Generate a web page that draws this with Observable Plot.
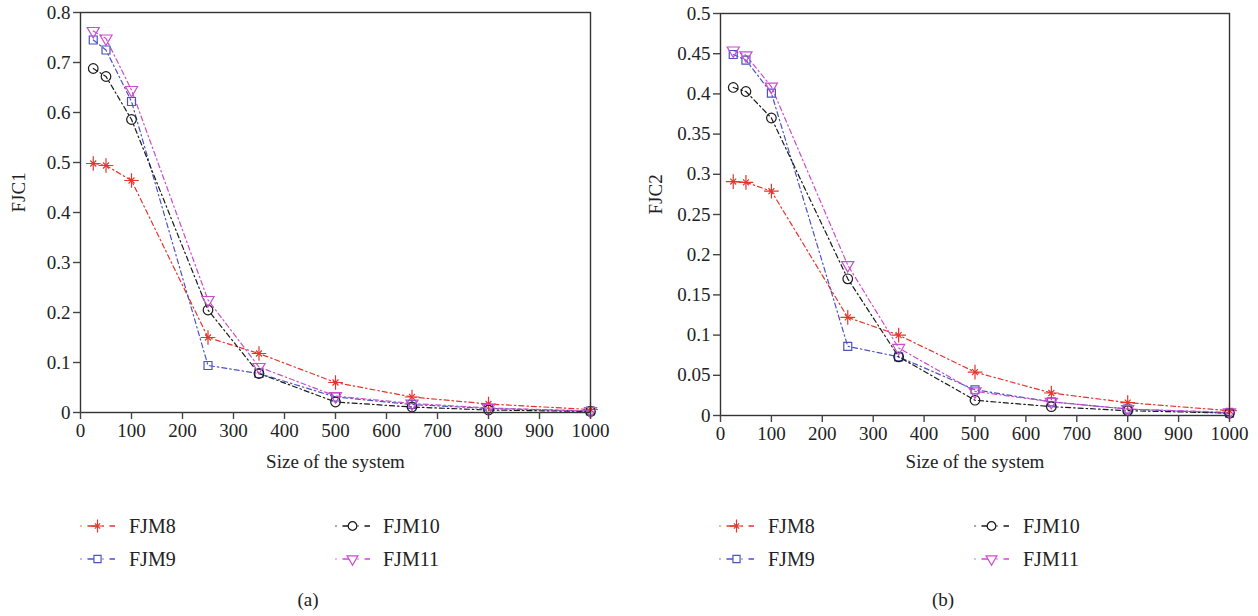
<!DOCTYPE html>
<html><head><meta charset="utf-8">
<script src="https://cdn.jsdelivr.net/npm/d3@7"></script>
<script src="https://cdn.jsdelivr.net/npm/@observablehq/plot@0.6"></script>
<style>
html,body{margin:0;padding:0;background:#fff;}
#root{position:relative;width:1258px;height:616px;overflow:hidden;font-family:"Liberation Serif",serif;color:#222;background:#fff;}
.panel{position:absolute;top:0;}
.leg{position:absolute;height:24px;font-size:20px;line-height:24px;white-space:nowrap;font-family:"Liberation Serif",serif;}
.leg svg{position:absolute;left:0;top:0;}
.leg span{position:absolute;top:0;}
.cap{position:absolute;font-size:19px;transform:translate(-50%,-50%);white-space:nowrap;font-family:"Liberation Serif",serif;}
</style></head><body><div id="root"></div>
<script>
// ---- data ----
const sizes = [25, 50, 100, 250, 350, 500, 650, 800, 1000];
const seriesNames = ["FJM8", "FJM9", "FJM10", "FJM11"];
const seriesColors = ["#e5352c", "#4d52c2", "#1a1a1a", "#cc4ccc"];
const xTicks = [0, 100, 200, 300, 400, 500, 600, 700, 800, 900, 1000];

// panel (a) FJC1
const fjc1FJM8  = [0.498, 0.494, 0.464, 0.150, 0.118, 0.060, 0.031, 0.017, 0.006];
const fjc1FJM9  = [0.745, 0.725, 0.622, 0.094, 0.078, 0.031, 0.016, 0.008, 0.003];
const fjc1FJM10 = [0.688, 0.672, 0.586, 0.205, 0.078, 0.021, 0.011, 0.005, 0.002];
const fjc1FJM11 = [0.763, 0.748, 0.645, 0.225, 0.091, 0.033, 0.018, 0.009, 0.003];
const fjc1Ticks = [0, 0.1, 0.2, 0.3, 0.4, 0.5, 0.6, 0.7, 0.8];

// panel (b) FJC2
const fjc2FJM8  = [0.291, 0.290, 0.279, 0.122, 0.100, 0.054, 0.028, 0.016, 0.006];
const fjc2FJM9  = [0.449, 0.442, 0.401, 0.086, 0.073, 0.032, 0.017, 0.008, 0.003];
const fjc2FJM10 = [0.408, 0.403, 0.370, 0.170, 0.073, 0.019, 0.011, 0.006, 0.003];
const fjc2FJM11 = [0.454, 0.448, 0.409, 0.187, 0.084, 0.030, 0.017, 0.008, 0.004];
const fjc2Ticks = [0, 0.05, 0.1, 0.15, 0.2, 0.25, 0.3, 0.35, 0.4, 0.45, 0.5];

const symbolSpec = {
  FJM8: [{symbol: "plus", r: 4.8}, {symbol: "times", r: 2.8}],
  FJM9: [{symbol: "square", r: 4.5}],
  FJM10: [{symbol: "circle", r: 4.8}],
  FJM11: [{symbol: "triangle", r: 4.5, rotate: 180}]
};
const d3Symbols = {plus: d3.symbolPlus, times: d3.symbolTimes, square: d3.symbolSquare, circle: d3.symbolCircle, triangle: d3.symbolTriangle};

function makePanel(values, yTicks, yLabel, m) {
  const rows = [];
  seriesNames.forEach((s, i) => values[i].forEach((v, j) => rows.push({series: s, size: sizes[j], value: v})));
  const marks = [
    Plot.line(rows, {x: "size", y: "value", z: "series", stroke: "series", strokeWidth: 1.2, strokeDasharray: "5,3,1.5,3"})
  ];
  seriesNames.forEach((s, i) => {
    const data = rows.filter(d => d.series === s);
    for (const sp of symbolSpec[s]) {
      marks.push(Plot.dot(data, {x: "size", y: "value", symbol: sp.symbol, r: sp.r, rotate: sp.rotate || 0,
        stroke: seriesColors[i], fill: "none", strokeWidth: 1.2}));
    }
  });
  marks.push(
    Plot.frame({stroke: "#333", strokeWidth: 1.4}),
    Plot.axisX({ticks: xTicks, tickSize: 7, tickPadding: 4, label: null, tickFormat: d => String(d), strokeWidth: 1.4, stroke: "#444", fontSize: 19}),
    Plot.axisY({ticks: yTicks, tickSize: 7, tickPadding: 3, label: null, tickFormat: d => String(d), strokeWidth: 1.4, stroke: "#444", fontSize: 19}),
    Plot.text([yLabel], {text: d => d, frameAnchor: "left", dx: -m.ylab, rotate: -90, fontSize: 19, fill: "#222"}),
    Plot.text(["Size of the system"], {text: d => d, frameAnchor: "bottom", dy: m.xlab, fontSize: 19, fill: "#222"})
  );
  return Plot.plot({
    width: 629, height: 480,
    marginTop: m.top, marginBottom: m.bottom, marginLeft: m.left, marginRight: m.right,
    style: {fontFamily: '"Liberation Serif", serif', fontSize: "19px", color: "#222", background: "transparent", overflow: "visible"},
    x: {domain: [0, 1000]},
    y: {domain: [0, yTicks[yTicks.length - 1]]},
    color: {domain: seriesNames, range: seriesColors},
    marks
  });
}

const root = document.getElementById("root");

function addPanel(el, left) {
  const wrap = document.createElement("div");
  wrap.className = "panel";
  wrap.style.left = left + "px";
  wrap.appendChild(el);
  root.appendChild(wrap);
}

addPanel(makePanel([fjc1FJM8, fjc1FJM9, fjc1FJM10, fjc1FJM11], fjc1Ticks, "FJC1",
  {top: 12, bottom: 68, left: 80, right: 39, ylab: 62, xlab: 55}), 0);
addPanel(makePanel([fjc2FJM8, fjc2FJM9, fjc2FJM10, fjc2FJM11], fjc2Ticks, "FJC2",
  {top: 13, bottom: 65, left: 91, right: 29, ylab: 65, xlab: 52}), 629);

function legendItem(name, x, textX, cy) {
  const i = seriesNames.indexOf(name);
  const color = seriesColors[i];
  const div = document.createElement("div");
  div.className = "leg";
  div.style.left = x + "px";
  div.style.top = (cy - 12) + "px";
  const svg = d3.create("svg").attr("width", 40).attr("height", 24);
  svg.append("line").attr("x1", 0.5).attr("x2", 35).attr("y1", 12).attr("y2", 12)
    .attr("stroke", color).attr("stroke-width", 1.3).attr("stroke-dasharray", "1,6,10,5");
  for (const sp of symbolSpec[name]) {
    svg.append("path")
      .attr("d", d3.symbol(d3Symbols[sp.symbol], sp.r * sp.r * Math.PI * 0.8)())
      .attr("transform", `translate(17.5,12) rotate(${sp.rotate || 0})`)
      .attr("fill", name === "FJM8" ? "none" : "#fff").attr("stroke", color).attr("stroke-width", 1.2);
  }
  div.appendChild(svg.node());
  const span = document.createElement("span");
  span.textContent = name;
  span.style.left = (textX - x) + "px";
  div.appendChild(span);
  root.appendChild(div);
}

// legend (a)
legendItem("FJM8", 80, 129, 526);
legendItem("FJM10", 335, 383, 526);
legendItem("FJM9", 80, 129, 559);
legendItem("FJM11", 335, 383, 559);
// legend (b)
legendItem("FJM8", 719, 768, 526);
legendItem("FJM10", 974, 1023, 526);
legendItem("FJM9", 719, 768, 559);
legendItem("FJM11", 974, 1023, 559);

function caption(text, x, y) {
  const d = document.createElement("div");
  d.className = "cap";
  d.textContent = text;
  d.style.left = x + "px";
  d.style.top = y + "px";
  root.appendChild(d);
}
caption("(a)", 308, 600);
caption("(b)", 943, 600);
</script>
</body></html>
